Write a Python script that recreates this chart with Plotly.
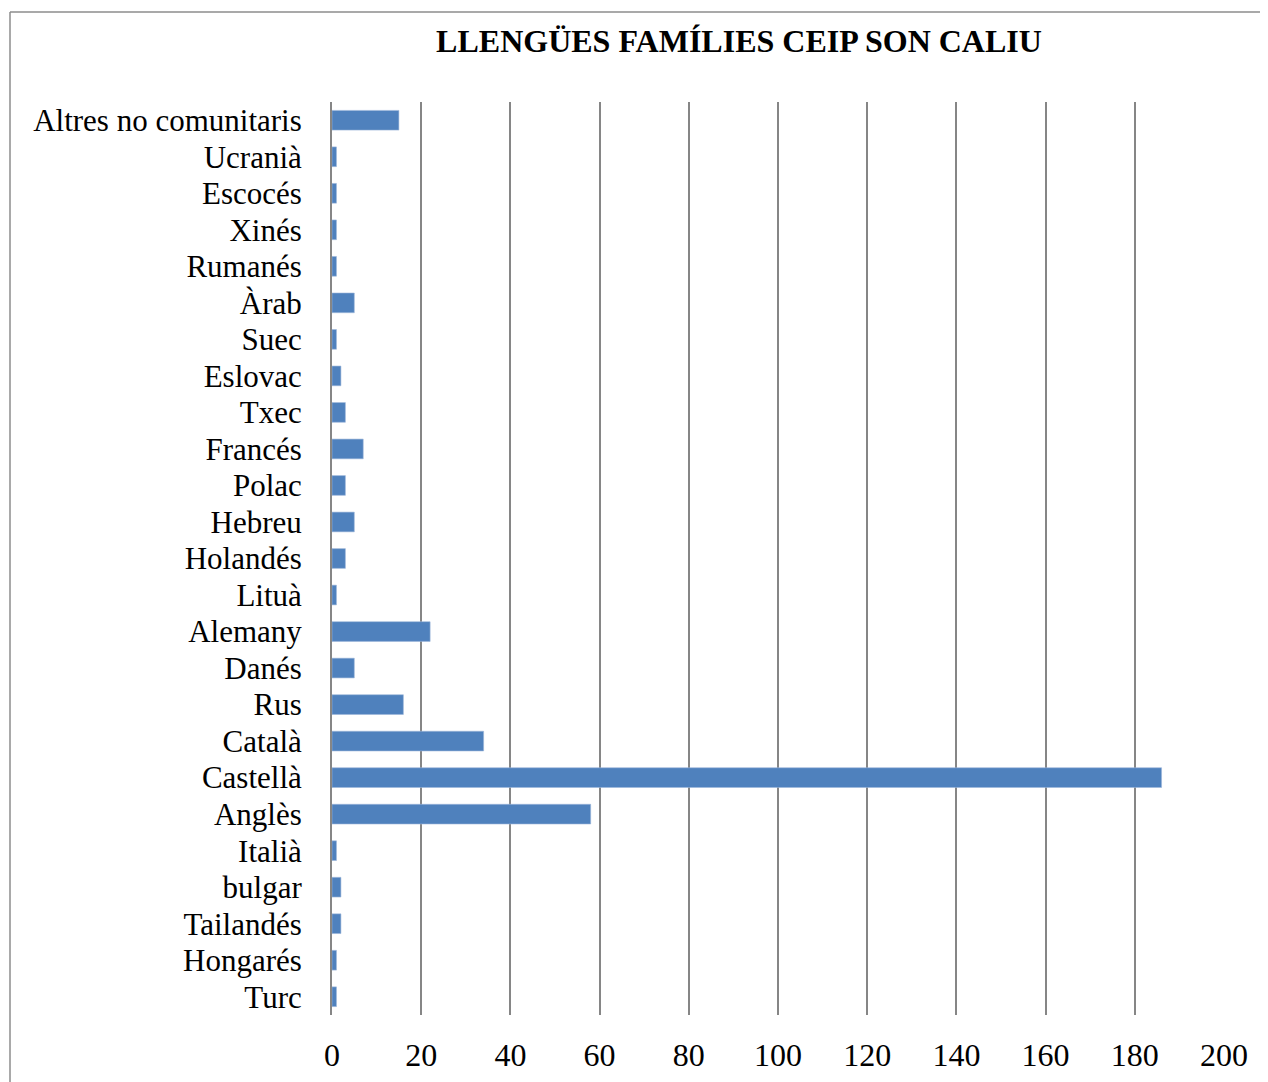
import plotly.graph_objects as go

# llengües (de dalt a baix, com al gràfic)
llengues = ['Altres no comunitaris', 'Ucranià', 'Escocés', 'Xinés', 'Rumanés', 'Àrab', 'Suec',
            'Eslovac', 'Txec', 'Francés', 'Polac', 'Hebreu', 'Holandés', 'Lituà', 'Alemany',
            'Danés', 'Rus', 'Català', 'Castellà', 'Anglès', 'Italià', 'bulgar', 'Tailandés',
            'Hongarés', 'Turc']
families = [15, 1, 1, 1, 1, 5, 1, 2, 3, 7, 3, 5, 3, 1, 22, 5, 16, 34, 186, 58, 1, 2, 2, 1, 1]
ticks_x = [0, 20, 40, 60, 80, 100, 120, 140, 160, 180, 200]

W, H = 1268, 1082
OFF = 8  # marge de la pàgina
L, R, T, B = 332 - OFF, 44 + OFF, 102 - OFF, 67 + OFF
pw, ph = W - L - R, H - T - B

fig = go.Figure(go.Bar(
    x=families[::-1],
    y=llengues[::-1],
    orientation='h',
    marker=dict(color='#4F81BD', line=dict(color='#9DB7DA', width=0.6)),
))

font = "Liberation Serif, Times New Roman, serif"
fig.update_layout(
    width=W, height=H,
    margin=dict(l=L, r=R, t=T, b=B),
    paper_bgcolor='white', plot_bgcolor='white',
    bargap=0.46,
    showlegend=False,
    font=dict(family=font, size=31, color='black'),
    title=dict(text='<b>LLENGÜES FAMÍLIES CEIP SON CALIU</b>',
               x=(739 - OFF) / W, xanchor='center', y=1 - (41 - OFF) / H, yanchor='middle',
               font=dict(family=font, size=32, color='black')),
)
fig.update_xaxes(range=[0, 200], tickvals=ticks_x, showgrid=True, gridcolor='#868686',
                 gridwidth=2, zeroline=False, showline=False, ticks='',
                 ticklabelstandoff=18, tickfont=dict(size=32))
fig.update_yaxes(type='category', tickmode='array', tickvals=llengues, ticktext=llengues,
                 showgrid=False, zeroline=False, showline=True,
                 linecolor='#868686', linewidth=2, ticks='', ticklabelstandoff=22,
                 tickfont=dict(size=31))

# marc del gràfic (vores superior i esquerra visibles)
bx = (10 - OFF - L) / pw
by = (H - B - (12 - OFF)) / ph
fig.add_shape(type='line', xref='paper', yref='paper', x0=bx, x1=(W - L) / pw + 0.01,
              y0=by, y1=by, line=dict(color='#8C8C8C', width=1.5))
fig.add_shape(type='line', xref='paper', yref='paper', x0=bx, x1=bx,
              y0=by, y1=-B / ph - 0.01, line=dict(color='#8C8C8C', width=1.5))

fig.write_html("out.html")
